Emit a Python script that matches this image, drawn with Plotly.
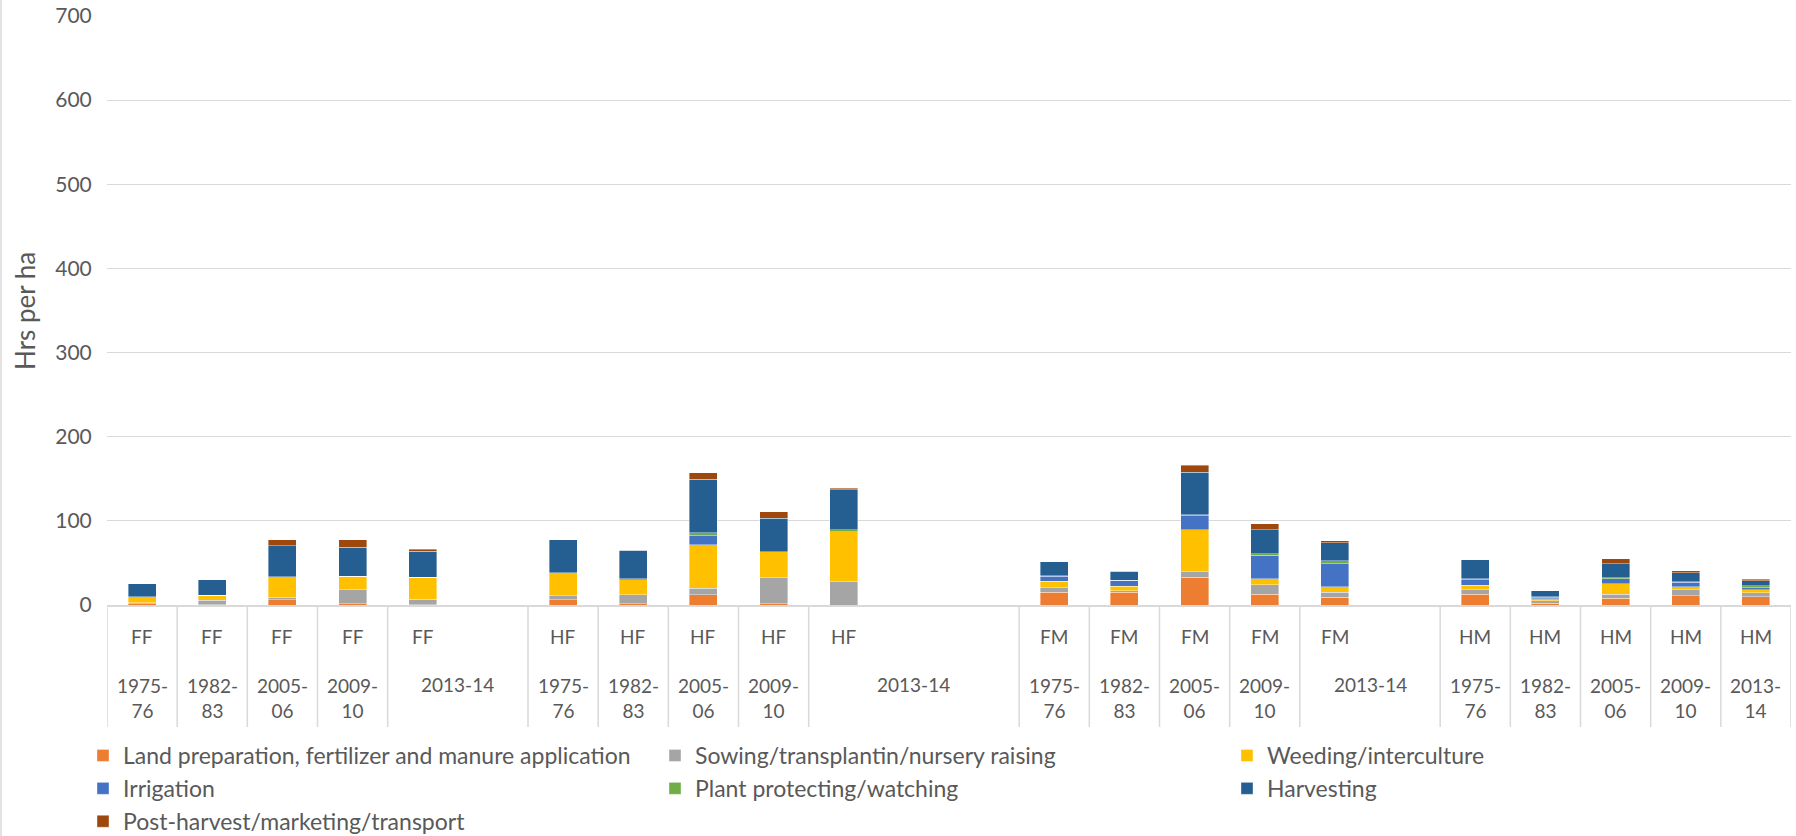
import plotly.graph_objects as go

# ---------------- data ----------------
groups = ["FF", "HF", "FM", "HM"]
years = ["1975-76", "1982-83", "2005-06", "2009-10", "2013-14"]
blank_slots_after = [1, 2, 1, 0]   # empty categories that follow each group's last year

series_names = [
    "Land preparation, fertilizer and manure application",
    "Sowing/transplantin/nursery raising",
    "Weeding/interculture",
    "Irrigation",
    "Plant protecting/watching",
    "Harvesting",
    "Post-harvest/marketing/transport",
]
series_colors = ["#ED7D31", "#A5A5A5", "#FFC000", "#4472C4", "#70AD47", "#255E91", "#9E480E"]

# values in order FF(5 years), HF(5), FM(5), HM(5)
land_prep = [1.5, 0.5, 6.3, 1.2, 0.5,  6.0, 1.5, 11.9, 1.6, 0.0,  15.1, 15.1, 32.9, 12.7, 9.1,  12.7, 2.0, 7.9, 11.1, 9.9]
sowing    = [1.0, 5.2, 3.2, 17.0, 6.3,  5.2, 10.7, 7.9, 30.6, 27.8,  5.6, 1.6, 6.7, 11.5, 6.0,  5.2, 3.2, 4.8, 7.1, 4.8]
weeding   = [7.5, 6.0, 23.8, 15.9, 26.2,  27.0, 17.9, 52.0, 31.0, 59.5,  7.5, 5.6, 49.6, 7.1, 6.7,  5.6, 2.4, 12.7, 3.6, 3.2]
irrigation = [0, 0, 0, 0, 0,  0, 1.0, 10.7, 0, 0,  6.0, 7.1, 17.0, 27.8, 27.4,  6.3, 1.2, 5.6, 5.2, 2.8]
plant_prot = [0, 0, 0, 0, 0,  0, 0, 3.2, 0, 2.4,  0.8, 0, 0.8, 1.6, 3.6,  1.2, 1.2, 1.6, 0.8, 2.0]
harvesting = [15.0, 18.6, 36.9, 34.5, 31.0,  39.3, 34.1, 63.5, 40.0, 47.2,  16.3, 10.7, 50.8, 29.0, 21.4,  23.0, 6.7, 16.3, 10.7, 6.3]
post_harvest = [0, 0, 7.1, 8.7, 2.0,  0, 0, 7.9, 7.9, 2.0,  0, 0, 8.3, 6.7, 2.0,  0, 0, 6.0, 2.4, 1.6]

series_values = [land_prep, sowing, weeding, irrigation, plant_prot, harvesting, post_harvest]

y_title = "Hrs per ha"

# ---------------- category slots ----------------
all_slots = []        # every category on the axis (incl. empty ones)
data_slots = []       # categories that carry bars
cells = []            # (group, year, first_index, n_slots)
for g, nb in zip(groups, blank_slots_after):
    for yi, yr in enumerate(years):
        key = f"{g} {yr}"
        first = len(all_slots)
        all_slots.append(key)
        data_slots.append(key)
        n = 1
        if yi == len(years) - 1:
            for k in range(nb):
                all_slots.append(f"{g} blank{k}")
                n += 1
        cells.append((g, yr, first, n))

FONT = "Lato, 'Open Sans', sans-serif"
TXT = "#595959"
GRID = "#D9D9D9"

fig = go.Figure()
for name, col, vals in zip(series_names, series_colors, series_values):
    fig.add_trace(go.Bar(
        x=data_slots, y=vals, name=name,
        marker=dict(color=col, line=dict(color="rgba(255,255,255,0.55)", width=0.7)),
        width=0.4,
    ))

# plot geometry (pixels)
W, H = 1796, 836
ml, mr, mt, mb = 107, 5, 16, 231
ph = H - mt - mb
pw = W - ml - mr

annotations = []
shapes = []
sep_bottom = -(727 - (H - mb)) / ph
XFS = 19
for g, yr, first, n in cells:
    annotations.append(dict(x=first, y=0, xref="x", yref="paper", text=g, showarrow=False,
                            yanchor="middle", yshift=-31, font=dict(family=FONT, size=XFS, color=TXT)))
    if n == 1:
        a, b = yr.split("-")
        annotations.append(dict(x=first, y=0, xref="x", yref="paper", text=f"{a}-<br>{b}",
                                showarrow=False, yanchor="middle", yshift=-93,
                                font=dict(family=FONT, size=XFS, color=TXT)))
    else:
        annotations.append(dict(x=first + (n - 1) / 2, y=0, xref="x", yref="paper", text=yr,
                                showarrow=False, yanchor="middle", yshift=-79,
                                font=dict(family=FONT, size=XFS, color=TXT)))
    shapes.append(dict(type="line", xref="x", yref="paper", x0=first - 0.5, x1=first - 0.5,
                       y0=0, y1=sep_bottom, line=dict(color=GRID, width=1.5)))
shapes.append(dict(type="line", xref="x", yref="paper", x0=len(all_slots) - 0.5, x1=len(all_slots) - 0.5,
                   y0=0, y1=sep_bottom, line=dict(color=GRID, width=1.5)))
# chart area left border
shapes.append(dict(type="line", xref="paper", yref="paper", x0=-(ml - 1) / pw, x1=-(ml - 1) / pw,
                   y0=-mb / ph, y1=1 + mt / ph, line=dict(color=GRID, width=1.5)))

# y-axis title (placed explicitly)
annotations.append(dict(x=-(ml - 25) / pw, y=(H - mb - 311) / ph, xref="paper", yref="paper",
                        text=y_title, textangle=-90, showarrow=False, xanchor="center", yanchor="middle",
                        font=dict(family=FONT, size=26, color=TXT)))

fig.update_layout(
    width=W, height=H,
    margin=dict(l=ml, r=mr, t=mt, b=mb, autoexpand=False),
    barmode="stack",
    plot_bgcolor="white", paper_bgcolor="white",
    font=dict(family=FONT, color=TXT),
    xaxis=dict(type="category", categoryorder="array", categoryarray=all_slots,
               range=[-0.5, len(all_slots) - 0.5], showticklabels=False, showgrid=False,
               showline=True, linecolor=GRID, linewidth=1.5, ticks="", zeroline=False),
    yaxis=dict(range=[0, 700], dtick=100, showgrid=True, gridcolor=GRID, gridwidth=1.3,
               zeroline=False, showline=False, ticks="outside", ticklen=10,
               tickcolor="rgba(0,0,0,0)",
               tickfont=dict(family=FONT, size=21, color=TXT)),
    legend=dict(orientation="h", xref="paper", yref="paper", x=(83 - ml) / pw, y=-(734 - (H - mb)) / ph,
                xanchor="left", yanchor="top", traceorder="normal",
                font=dict(family=FONT, size=23, color=TXT),
                entrywidth=527, entrywidthmode="pixels", itemwidth=30, tracegroupgap=0),
    annotations=annotations, shapes=shapes,
)

fig.write_html("out.html", config={"displayModeBar": False},
               post_script="document.body.style.margin='0';")
